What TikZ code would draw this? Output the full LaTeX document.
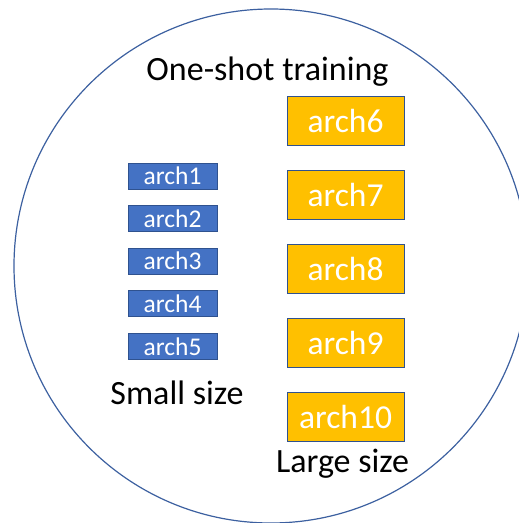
\documentclass[tikz,border=0pt]{standalone}
\usepackage{fontspec}
\setmainfont{Carlito}
\usepackage{tikz}
\usetikzlibrary{positioning}

\definecolor{ringblue}{RGB}{60,96,160}
\definecolor{smallfill}{RGB}{68,114,196}
\definecolor{largefill}{RGB}{255,192,0}
\definecolor{boxline}{RGB}{47,82,143}

\begin{document}
\begin{tikzpicture}[x=1pt,y=-1pt,
	small/.style = {draw=boxline, line width=0.8pt, fill=smallfill, text=white, inner sep=0pt,
		minimum width=89pt, minimum height=26pt, font=\fontsize{25.5}{30}\selectfont},
	large/.style = {draw=boxline, line width=0.8pt, fill=largefill, text=white, inner sep=0pt,
		minimum width=117pt, minimum height=49pt, font=\fontsize{33.5}{40}\selectfont},
	label/.style = {anchor=base, inner sep=0pt, font=\fontsize{34}{40}\selectfont}]
	\useasboundingbox (0,0) rectangle (519,523);
	\draw[ringblue, line width=1.2pt] (271,266) circle (257pt);
	\node[label] (title) at (267.5,80) {One-shot training};
	% small architectures
	\node[small] (arch1) at (172.5,176) {arch1};
	\node[small] (arch2) [below=15.8pt of arch1] {arch2};
	\node[small] (arch3) [below=15.8pt of arch2] {arch3};
	\node[small] (arch4) [below=15.8pt of arch3] {arch4};
	\node[small] (arch5) [below=15.8pt of arch4] {arch5};
	\node[label] (smallsize) at (177,404) {Small size};
	% large architectures
	\node[large] (arch6) at (345.5,120.5) {arch6};
	\node[large] (arch7) [below=24.2pt of arch6] {arch7};
	\node[large] (arch8) [below=24.2pt of arch7] {arch8};
	\node[large] (arch9) [below=24.2pt of arch8] {arch9};
	\node[large] (arch10) [below=24.2pt of arch9] {arch10};
	\node[label] (largesize) at (342.5,472) {Large size};
\end{tikzpicture}
\end{document}
